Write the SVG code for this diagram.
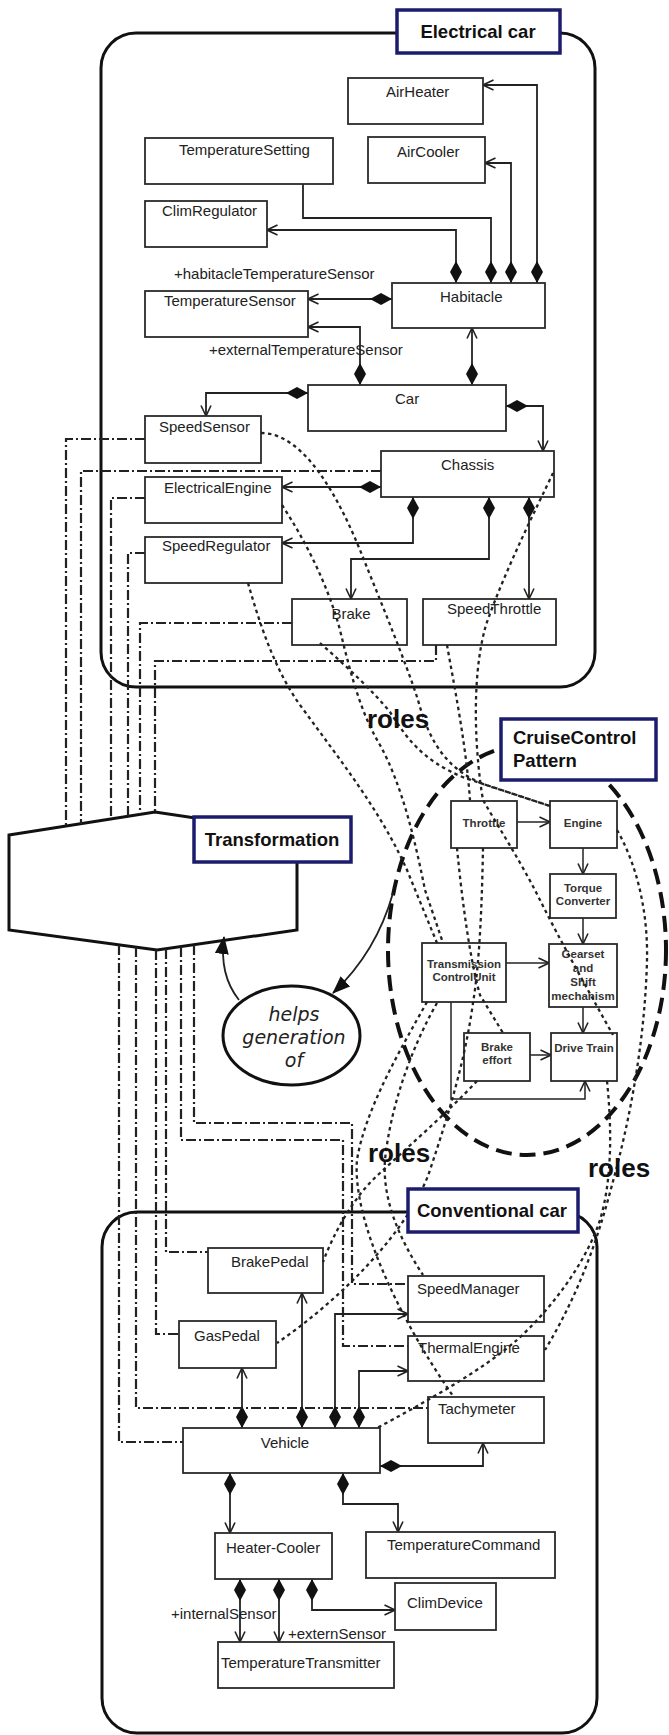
<svg xmlns="http://www.w3.org/2000/svg" width="669" height="1735" viewBox="0 0 669 1735">
<style>
.box{fill:#fff;stroke:#2a2a2a;stroke-width:1.8}
.t{font-family:"Liberation Sans",Arial,sans-serif;font-size:15px;fill:#222}
.tm{text-anchor:middle}
.pt{font-family:"Liberation Sans",Arial,sans-serif;font-size:11.5px;font-weight:bold;fill:#333;text-anchor:middle}
.lbl{fill:#fff;stroke:#1c1c6e;stroke-width:3.5}
.lt{font-family:"Liberation Sans",Arial,sans-serif;font-size:18.5px;font-weight:bold;fill:#111}
.roles{font-family:"Liberation Sans",Arial,sans-serif;font-size:26px;font-weight:bold;fill:#111}
.c{fill:none;stroke:#222;stroke-width:1.8}
.comp{marker-start:url(#dia);marker-end:url(#arr)}
.p{fill:none;stroke:#222;stroke-width:1.5;marker-end:url(#arr)}
.dd{fill:none;stroke:#222;stroke-width:2.2;stroke-dasharray:10 3 2 3}
.rl{fill:none;stroke:#222;stroke-width:2.3;stroke-dasharray:3.5 3.5}
.cont{fill:none;stroke:#111;stroke-width:3}
</style>
<defs>
<marker id="arr" viewBox="0 0 12 12" refX="11.5" refY="6" markerWidth="12" markerHeight="12" markerUnits="userSpaceOnUse" orient="auto"><path d="M1,1 L11.5,6 L1,11" fill="none" stroke="#222" stroke-width="1.6"/></marker>
<marker id="dia" viewBox="0 0 22 12" refX="0" refY="6" markerWidth="22" markerHeight="12" markerUnits="userSpaceOnUse" orient="auto"><path d="M0,6 L11,0 L22,6 L11,12 Z" fill="#111"/></marker>
<marker id="tri" viewBox="0 0 18 14" refX="17" refY="7" markerWidth="18" markerHeight="14" markerUnits="userSpaceOnUse" orient="auto"><path d="M0,0 L18,7 L0,14 Z" fill="#111"/></marker>
</defs>
<rect width="669" height="1735" fill="#fff"/>

<g id="containers">
<rect class="cont" x="101" y="33" width="494" height="654" rx="35" ry="35"/>
<rect class="cont" x="102" y="1212" width="495" height="521" rx="35" ry="35"/>
<polygon id="transformation-shape" points="9,835 155,812 297,833 297,930 157,950 9,930" fill="#fff" stroke="#111" stroke-width="3"/>
<ellipse id="pattern-boundary" cx="527" cy="950" rx="139" ry="205" fill="none" stroke="#111" stroke-width="4" stroke-dasharray="16 8"/>
</g>

<g id="connectors">
<path class="c comp" d="M456,283 V230 H267"/>
<path class="c" marker-start="url(#dia)" d="M491,283 V218 H303 V184"/>
<path class="c comp" d="M511,283 V163 H485"/>
<path class="c comp" d="M537,283 V85 H483"/>
<path class="c comp" d="M392,299 H308"/>
<path class="c comp" d="M360,385 V327 H308"/>
<path class="c comp" d="M472,385 V328"/>
<path class="c comp" d="M308,393 H206 V416"/>
<path class="c comp" d="M506,406 H543 V451"/>
<path class="c comp" d="M381,487 H282"/>
<path class="c comp" d="M413,497 V543 H282"/>
<path class="c comp" d="M489,497 V559 H351 V599"/>
<path class="c comp" d="M529,497 V599"/>

<path class="c comp" d="M242,1428 V1368"/>
<path class="c comp" d="M302,1428 V1293"/>
<path class="c comp" d="M335,1428 V1314 H408"/>
<path class="c comp" d="M359,1428 V1371 H408"/>
<path class="c comp" d="M380,1466 H483 V1443"/>
<path class="c comp" d="M230,1473 V1533"/>
<path class="c comp" d="M343,1473 V1504 H398 V1532"/>
<path class="c comp" d="M240,1579 V1642"/>
<path class="c comp" d="M279,1579 V1642"/>
<path class="c comp" d="M312,1579 V1610 H395"/>

<path class="p" d="M517,822 H550"/>
<path class="p" d="M583,848 V874"/>
<path class="p" d="M583,918 V944"/>
<path class="p" d="M506,963 H549"/>
<path class="p" d="M583,1007 V1033"/>
<path class="p" d="M530,1055 H551"/>
<path class="p" d="M451,1002 V1099 H585 V1081"/>

<path class="dd" d="M145,439 H66 V826"/>
<path class="dd" d="M381,471 H81 V824"/>
<path class="dd" d="M145,498 H111 V819"/>
<path class="dd" d="M145,553 H128 V816"/>
<path class="dd" d="M292,623 H140 V814"/>
<path class="dd" d="M436,645 V661 H155 V812"/>
<path class="dd" d="M119,945 V1442 H183"/>
<path class="dd" d="M136,947 V1408 H428"/>
<path class="dd" d="M156,950 V1334 H179"/>
<path class="dd" d="M166,949 V1252 H208"/>
<path class="dd" d="M181,947 V1140 H343 V1346 H408"/>
<path class="dd" d="M194,945 V1123 H352 V1284 H408"/>

<path class="c" stroke-width="2" marker-end="url(#tri)" d="M239,1000 Q219,975 224,937"/>
<path class="c" stroke-width="2" marker-end="url(#tri)" d="M393,893 C384,925 366,962 333,993"/>
</g>

<g id="nodes">
<g id="AirHeater"><rect class="box" x="348" y="78" width="135" height="46"/><text class="t" x="386" y="97">AirHeater</text></g>
<g id="TemperatureSetting"><rect class="box" x="145" y="138" width="188" height="46"/><text class="t" x="179" y="155">TemperatureSetting</text></g>
<g id="AirCooler"><rect class="box" x="368" y="137" width="117" height="46"/><text class="t" x="397" y="157">AirCooler</text></g>
<g id="ClimRegulator"><rect class="box" x="145" y="201" width="122" height="46"/><text class="t" x="162" y="216">ClimRegulator</text></g>
<g id="TemperatureSensor"><rect class="box" x="145" y="291" width="163" height="46"/><text class="t" x="164" y="306">TemperatureSensor</text></g>
<g id="Habitacle"><rect class="box" x="392" y="283" width="153" height="45"/><text class="t" x="440" y="302">Habitacle</text></g>
<g id="Car"><rect class="box" x="308" y="385" width="198" height="46"/><text class="t" x="395" y="404">Car</text></g>
<g id="SpeedSensor"><rect class="box" x="145" y="416" width="116" height="47"/><text class="t" x="159" y="432">SpeedSensor</text></g>
<g id="Chassis"><rect class="box" x="381" y="451" width="173" height="46"/><text class="t" x="441" y="470">Chassis</text></g>
<g id="ElectricalEngine"><rect class="box" x="145" y="477" width="137" height="46"/><text class="t" x="164" y="493">ElectricalEngine</text></g>
<g id="SpeedRegulator"><rect class="box" x="145" y="537" width="137" height="46"/><text class="t" x="162" y="551">SpeedRegulator</text></g>
<g id="Brake"><rect class="box" x="292" y="599" width="115" height="46"/><text class="t tm" x="351" y="619">Brake</text></g>
<g id="SpeedThrottle"><rect class="box" x="423" y="599" width="133" height="46"/><text class="t" x="447" y="614">SpeedThrottle</text></g>

<g id="Throttle"><rect class="box" x="451" y="801" width="66" height="47"/><text class="pt" x="484" y="827">Throttle</text></g>
<g id="Engine"><rect class="box" x="550" y="801" width="67" height="47"/><text class="pt" x="583" y="827">Engine</text></g>
<g id="TorqueConverter"><rect class="box" x="550" y="874" width="66" height="44"/><text class="pt" x="583" y="892">Torque</text><text class="pt" x="583" y="905">Converter</text></g>
<g id="TransmissionControlUnit"><rect class="box" x="422" y="943" width="84" height="59"/><text class="pt" x="464" y="968">Transmission</text><text class="pt" x="464" y="981">ControlUnit</text></g>
<g id="GearsetShift"><rect class="box" x="549" y="944" width="68" height="63"/><text class="pt" x="583" y="958">Gearset</text><text class="pt" x="583" y="972">and</text><text class="pt" x="583" y="986">Shift</text><text class="pt" x="583" y="1000">mechanism</text></g>
<g id="BrakeEffort"><rect class="box" x="464" y="1033" width="66" height="48"/><text class="pt" x="497" y="1051">Brake</text><text class="pt" x="497" y="1064">effort</text></g>
<g id="DriveTrain"><rect class="box" x="551" y="1033" width="66" height="48"/><text class="pt" x="584" y="1052">Drive Train</text></g>

<g id="BrakePedal"><rect class="box" x="208" y="1248" width="115" height="45"/><text class="t" x="231" y="1267">BrakePedal</text></g>
<g id="SpeedManager"><rect class="box" x="408" y="1276" width="136" height="46"/><text class="t" x="417" y="1294">SpeedManager</text></g>
<g id="GasPedal"><rect class="box" x="179" y="1321" width="97" height="47"/><text class="t" x="194" y="1341">GasPedal</text></g>
<g id="ThermalEngine"><rect class="box" x="408" y="1336" width="136" height="45"/><text class="t" x="418" y="1353">ThermalEngine</text></g>
<g id="Tachymeter"><rect class="box" x="428" y="1397" width="116" height="46"/><text class="t" x="438" y="1414">Tachymeter</text></g>
<g id="Vehicle"><rect class="box" x="183" y="1428" width="197" height="45"/><text class="t tm" x="285" y="1448">Vehicle</text></g>
<g id="HeaterCooler"><rect class="box" x="215" y="1533" width="117" height="46"/><text class="t" x="226" y="1553">Heater-Cooler</text></g>
<g id="TemperatureCommand"><rect class="box" x="366" y="1532" width="189" height="46"/><text class="t" x="387" y="1550">TemperatureCommand</text></g>
<g id="ClimDevice"><rect class="box" x="395" y="1583" width="101" height="47"/><text class="t" x="407" y="1608">ClimDevice</text></g>
<g id="TemperatureTransmitter"><rect class="box" x="218" y="1642" width="176" height="46"/><text class="t" x="221" y="1668">TemperatureTransmitter</text></g>

<g id="helps"><ellipse cx="291.5" cy="1035.5" rx="68.5" ry="49.5" fill="#fff" stroke="#111" stroke-width="3"/>
<text x="294" y="1021" text-anchor="middle" font-family="DejaVu Sans, sans-serif" font-style="italic" font-size="19" fill="#222">helps</text>
<text x="294" y="1044" text-anchor="middle" font-family="DejaVu Sans, sans-serif" font-style="italic" font-size="19" fill="#222">generation</text>
<text x="294" y="1067" text-anchor="middle" font-family="DejaVu Sans, sans-serif" font-style="italic" font-size="19" fill="#222">of</text></g>
</g>

<g id="role-names">
<text class="t" x="174" y="279">+habitacleTemperatureSensor</text>
<text class="t" x="209" y="355">+externalTemperatureSensor</text>
<text class="t" x="171" y="1619">+internalSensor</text>
<text class="t" x="288" y="1639">+externSensor</text>
</g>

<g id="role-links">
<path class="rl" d="M261,433 C305,433 340,500 362,555 C382,605 405,660 418,700 C430,745 450,775 495,788 L550,806"/>
<path class="rl" d="M282,505 C305,540 328,585 340,630 C352,680 362,715 380,745 C402,785 415,840 425,890 L443,943"/>
<path class="rl" d="M248,583 C260,625 275,670 300,705 C340,760 380,810 407,870 L437,943"/>
<path class="rl" d="M320,643 C345,665 372,690 390,712 C405,735 420,760 465,778 L550,806"/>
<path class="rl" d="M447,645 C455,690 466,745 470,800"/>
<path class="rl" d="M553,473 C538,505 505,570 486,625 C470,680 476,760 483,800 C500,830 520,860 540,900 C560,940 585,985 613,1035"/>
<path class="rl" d="M483,848 C482,900 480,960 473,1003 C465,1060 450,1110 430,1170 C410,1230 340,1300 277,1343"/>
<path class="rl" d="M457,848 C462,900 470,960 480,995 L503,1033"/>
<path class="rl" d="M427,1002 C400,1050 365,1110 357,1160 C352,1220 400,1320 453,1396"/>
<path class="rl" d="M437,1003 C410,1050 390,1110 385,1160 C382,1200 400,1240 423,1275"/>
<path class="rl" d="M477,1081 C450,1110 410,1145 380,1173 C355,1195 335,1230 323,1262"/>
<path class="rl" d="M617,830 C640,870 648,920 647,960 C645,1040 630,1120 612,1185 C595,1250 575,1300 545,1350"/>
<path class="rl" d="M607,1081 C612,1130 612,1180 600,1220 C585,1265 550,1310 517,1340 C480,1372 420,1405 377,1428"/>
</g>

<g id="labels">
<g id="ElectricalCarLabel"><rect class="lbl" x="397" y="10" width="163" height="43"/><text class="lt" x="478" y="38" text-anchor="middle">Electrical car</text></g>
<g id="CruiseControlLabel"><rect class="lbl" x="501" y="719" width="155" height="61"/><text class="lt" x="513" y="744">CruiseControl</text><text class="lt" x="513" y="767">Pattern</text></g>
<g id="TransformationLabel"><rect class="lbl" x="194" y="817" width="157" height="45"/><text class="lt" x="272" y="846" text-anchor="middle">Transformation</text></g>
<g id="ConventionalCarLabel"><rect class="lbl" x="408" y="1189" width="170" height="43"/><text class="lt" x="492" y="1217" text-anchor="middle">Conventional car</text></g>
<text class="roles" x="367" y="728">roles</text>
<text class="roles" x="368" y="1162">roles</text>
<text class="roles" x="588" y="1177">roles</text>
</g>
</svg>
